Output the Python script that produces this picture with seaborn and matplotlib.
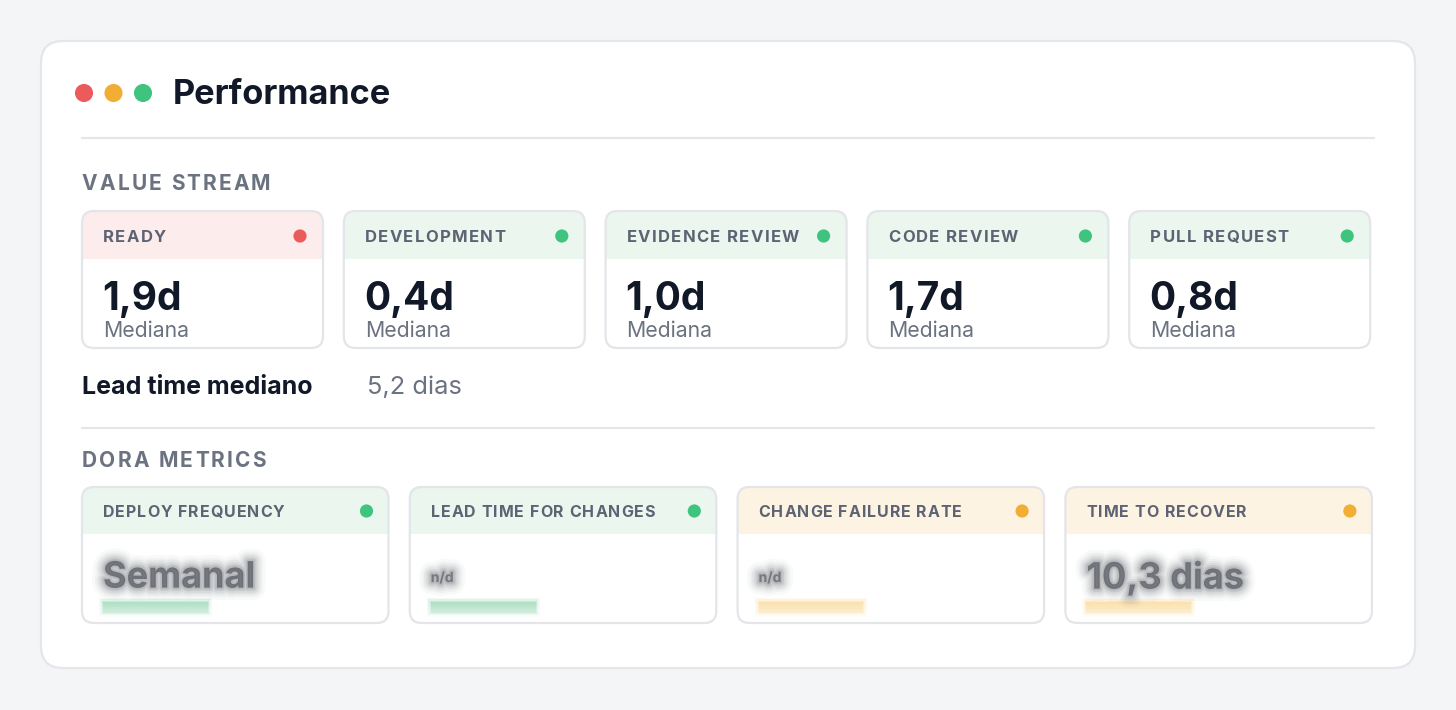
import matplotlib
matplotlib.use("Agg")
import matplotlib.pyplot as plt
import matplotlib.patheffects as pe
from matplotlib.patches import FancyBboxPatch, Rectangle
import seaborn as sns
import pandas as pd

# Dados do painel
title = "Performance"
window_dots = ["red", "amber", "green"]

stream_section = "VALUE STREAM"
stream_stages = ["READY", "DEVELOPMENT", "EVIDENCE REVIEW", "CODE REVIEW", "PULL REQUEST"]
stream_days = [1.9, 0.4, 1.0, 1.7, 0.8]
stream_status = ["red", "green", "green", "green", "green"]
stream_caption = "Mediana"

lead_time_label = "Lead time mediano"
lead_time_days = 5.2

dora_section = "DORA METRICS"
dora_metrics = ["DEPLOY FREQUENCY", "LEAD TIME FOR CHANGES", "CHANGE FAILURE RATE", "TIME TO RECOVER"]
dora_values = ["Semanal", "n/d", "n/d", "10,3 dias"]
dora_status = ["green", "green", "amber", "amber"]
dora_fill = [0.4, 0.4, 0.4, 0.4]

# Estilo
COLORS = {
    "red": {"dot": "#eb5b5b", "head": "#fdecec", "bar": "#f6c4c4"},
    "amber": {"dot": "#f2ad35", "head": "#fdf3e3", "bar": "#fbe0a8"},
    "green": {"dot": "#3ec47f", "head": "#eaf6ee", "bar": "#addfc2"},
}
BG = "#f4f5f7"
BORDER = "#e3e5e9"
DARK = "#111827"
GRAY = "#6b7280"
LABEL = "#5d6373"

sns.set_theme(style="white")
plt.rcParams["font.family"] = ["Inter", "DejaVu Sans"]

W, H = 1456, 710
fig = plt.figure(figsize=(W / 100, H / 100), dpi=100, facecolor=BG)
ax = fig.add_axes([0, 0, 1, 1])
ax.set_facecolor(BG)
renderer = fig.canvas.get_renderer()


def fmt(v, suffix):
    return f"{v:.1f}".replace(".", ",") + suffix


def tracked(x, y, s, track, **kw):
    # texto com espaçamento entre letras
    ref = ax.text(0, 0, "x", **kw)
    wx = ref.get_window_extent(renderer).width
    ref.remove()
    for c in s:
        if c != " ":
            ax.text(x, y, c, ha="left", va="center", **kw)
        probe = ax.text(0, 0, c + "x", **kw)
        w = probe.get_window_extent(renderer).width - wx
        probe.remove()
        x += w + track


def card(x, y, w, h, head_h, head_color, radius=12):
    body = FancyBboxPatch((x, y), w, h, boxstyle=f"round,pad=0,rounding_size={radius}",
                          facecolor="white", edgecolor="none", zorder=2)
    ax.add_patch(body)
    head = Rectangle((x, y), w, head_h, facecolor=head_color, edgecolor="none", zorder=3)
    ax.add_patch(head)
    head.set_clip_path(body)
    ax.add_patch(FancyBboxPatch((x, y), w, h, boxstyle=f"round,pad=0,rounding_size={radius}",
                                facecolor="none", edgecolor=BORDER, linewidth=1.6, zorder=6))


def blur_effects(color):
    layers = [(18, 0.03), (14, 0.045), (11, 0.06), (8, 0.08), (5, 0.1), (2.5, 0.12)]
    return [pe.Stroke(linewidth=lw, foreground=color, alpha=a) for lw, a in layers] + [pe.Normal()]


# Cartão externo
ax.add_patch(FancyBboxPatch((41, 41), 1374, 627, boxstyle="round,pad=0,rounding_size=22",
                            facecolor="white", edgecolor="#e4e6ea", linewidth=1.6, zorder=1))

dots = []
for i, s in enumerate(window_dots):
    dots.append({"x": 84 + i * 29.5, "y": 93, "c": COLORS[s]["dot"], "s": 170})
ax.text(173, 95, title, ha="left", va="center", fontsize=24.7, fontweight="bold", color=DARK, zorder=5)

ax.plot([82, 1374], [138, 138], color="#e4e6ea", linewidth=1.6, zorder=2)

# Value stream
tracked(82, 184, stream_section, 2.2, fontsize=15, fontweight="bold", color=GRAY, zorder=5)
sx0, sw, sgap = 82, 241, 20.8
for i, (stage, val, st) in enumerate(zip(stream_stages, stream_days, stream_status)):
    x = sx0 + i * (sw + sgap)
    card(x, 211, sw, 137, 48, COLORS[st]["head"])
    tracked(x + 21, 237.5, stage, 1.3, fontsize=12, fontweight="bold", color=LABEL, zorder=5)
    dots.append({"x": x + sw - 23, "y": 236, "c": COLORS[st]["dot"], "s": 90})
    ax.text(x + 20, 300, fmt(val, "d"), ha="left", va="center", fontsize=28, fontweight="bold",
            color=DARK, zorder=5)
    ax.text(x + 21, 331, stream_caption, ha="left", va="center", fontsize=15.3, color=GRAY, zorder=5)

ax.text(82, 387, lead_time_label, ha="left", va="center", fontsize=18, fontweight="bold", color=DARK, zorder=5)
ax.text(367, 387, fmt(lead_time_days, " dias"), ha="left", va="center", fontsize=18.3, color=GRAY, zorder=5)

ax.plot([82, 1374], [428, 428], color="#e4e6ea", linewidth=1.6, zorder=2)

# DORA
tracked(82, 461, dora_section, 2.2, fontsize=15, fontweight="bold", color=GRAY, zorder=5)
dx0, dw, dgap = 82, 306.5, 21.3
for i, (m, val, st, f) in enumerate(zip(dora_metrics, dora_values, dora_status, dora_fill)):
    x = dx0 + i * (dw + dgap)
    card(x, 487, dw, 136, 47, COLORS[st]["head"])
    tracked(x + 21, 512.5, m, 1.0, fontsize=11.5, fontweight="bold", color=LABEL, zorder=5)
    dots.append({"x": x + dw - 22, "y": 511, "c": COLORS[st]["dot"], "s": 90})
    big = len(val) > 3
    ax.text(x + 21, 578, val, ha="left", va="center", fontsize=26 if big else 10,
            fontweight="bold", color="#3f434c", alpha=0.35 if big else 0.25, zorder=5,
            path_effects=blur_effects("#3f434c"))
    bar_w = f * (dw - 42) * 0.99
    for extra, a in [(8, 0.15), (5, 0.25), (2, 0.4), (0, 0.85)]:
        ax.barh(607, bar_w + extra, left=x + 21 - extra / 2, height=11 + extra,
                color=COLORS[st]["bar"], alpha=a, linewidth=0, zorder=4)
    # desvanecimento na base do cartão
    for k in range(12):
        ax.add_patch(Rectangle((x + 2, 604 + k * 1.5), dw - 4, 1.6, facecolor="white",
                               alpha=0.1 + k * 0.06, edgecolor="none", zorder=5))

df = pd.DataFrame(dots)
sns.scatterplot(data=df, x="x", y="y", hue="c", palette={c: c for c in df["c"].unique()},
                size="s", sizes=(90, 170), legend=False, linewidth=0, ax=ax, zorder=7)

ax.set_xlim(0, W)
ax.set_ylim(H, 0)
ax.axis("off")
fig.savefig("out.png", dpi=100, facecolor=BG)
